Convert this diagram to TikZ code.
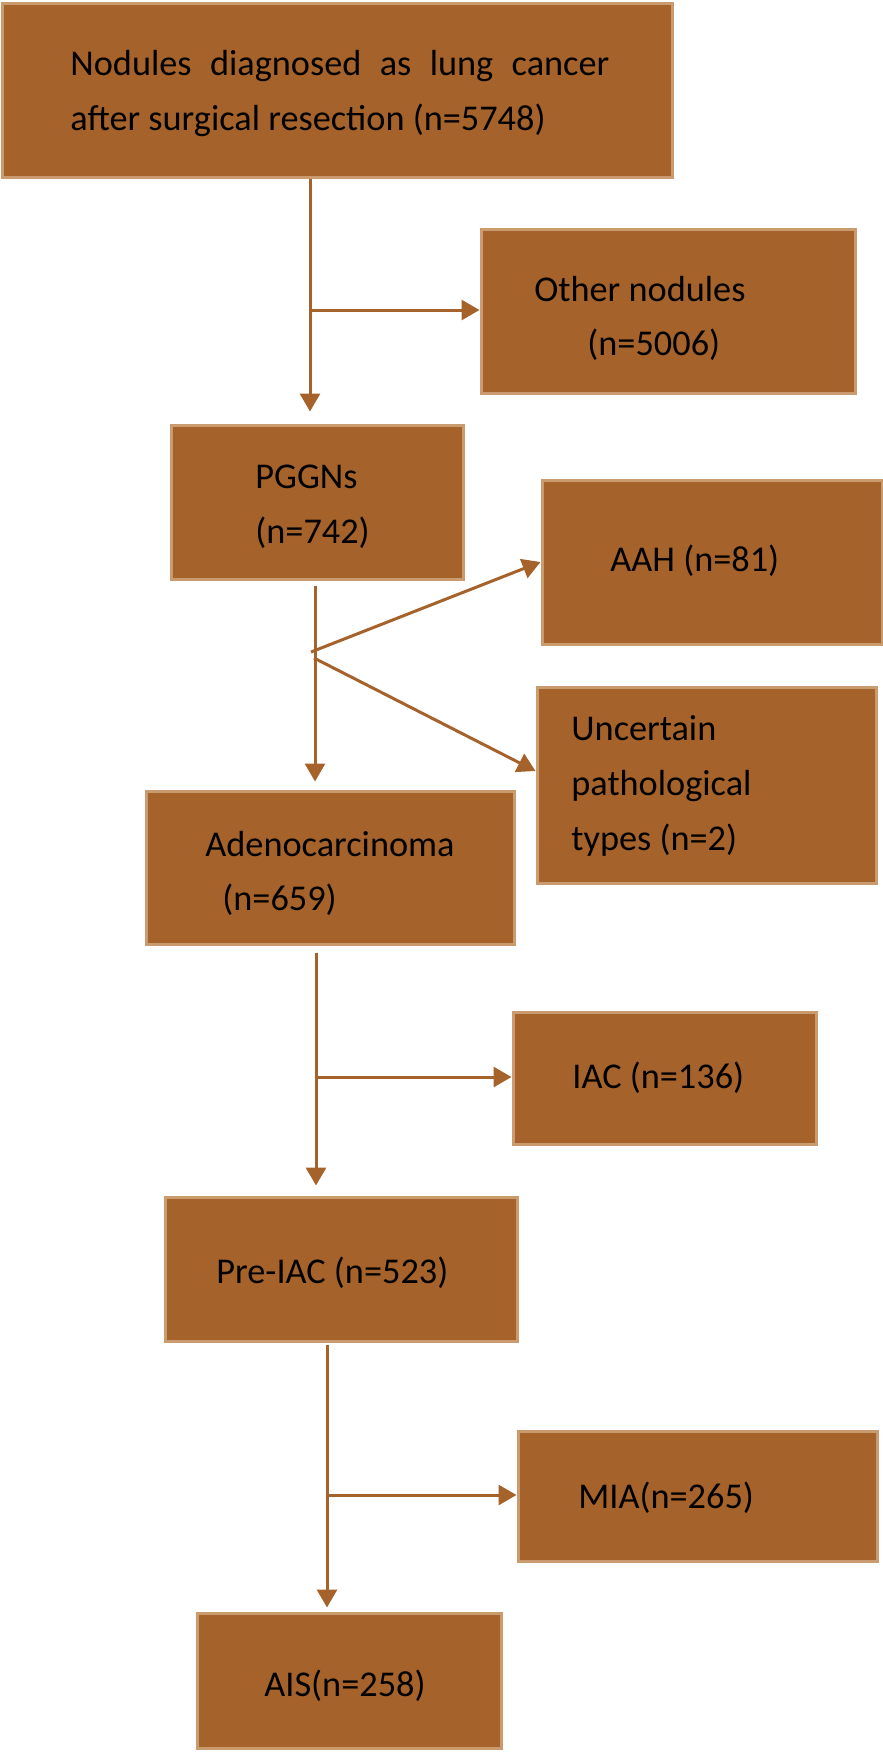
\documentclass[tikz,border=0pt]{standalone}
\usepackage{fontspec}
\setmainfont{Carlito}
\usetikzlibrary{arrows.meta}
\definecolor{bfill}{RGB}{165,99,43}
\definecolor{bborder}{RGB}{203,155,112}
\definecolor{bline}{RGB}{165,99,43}
\tikzset{
  box/.style={draw=bborder, fill=bfill, line width=1.5pt, rectangle, inner sep=0pt},
  txt/.style={anchor=west, inner sep=0pt, text height=13pt, text depth=4.5pt, font=\fontsize{18.15}{27}\selectfont, text=black},
  arr/.style={draw=bline, line width=1.5pt, -{Triangle[length=9pt,width=10pt]}},
  ln/.style={draw=bline, line width=1.5pt}
}
\begin{document}
\begin{tikzpicture}[x=0.5pt,y=-0.5pt]
\useasboundingbox (0,0) rectangle (883,1752);
% boxes
\node[box, minimum width=335pt, minimum height=87pt] (top) at (337,90) {};
\node[box, minimum width=187pt, minimum height=82pt] (other) at (668,311) {};
\node[box, minimum width=146pt, minimum height=77pt] (pggn) at (317,502) {};
\node[box, minimum width=170pt, minimum height=82pt] (aah) at (712,562) {};
\node[box, minimum width=169.5pt, minimum height=98pt] (unc) at (706.5,785) {};
\node[box, minimum width=184pt, minimum height=76.5pt] (adeno) at (330,867.5) {};
\node[box, minimum width=151.5pt, minimum height=66pt] (iac) at (664.5,1078) {};
\node[box, minimum width=176pt, minimum height=72pt] (preiac) at (341,1269) {};
\node[box, minimum width=179.5pt, minimum height=65pt] (mia) at (697.5,1496) {};
\node[box, minimum width=152pt, minimum height=67.5pt] (ais) at (349,1680.5) {};
% texts
\node[txt] (t1) at (70,67) {\makebox[269.5pt][s]{Nodules diagnosed as lung cancer}};
\node[txt] (t2) at (70,122) {after surgical resection (n=5748)};
\node[txt] (o1) at (534,293) {Other nodules};
\node[txt] (o2) at (587,347) {(n=5006)};
\node[txt] (p1) at (255,480) {PGGNs};
\node[txt] (p2) at (255,535) {(n=742)};
\node[txt] (a1) at (610,563) {AAH (n=81)};
\node[txt] (u1) at (571,732) {Uncertain};
\node[txt] (u2) at (571,787) {pathological};
\node[txt] (u3) at (571,842) {types (n=2)};
\node[txt] (d1) at (205,848) {Adenocarcinoma};
\node[txt] (d2) at (222,902) {(n=659)};
\node[txt] (i1) at (572,1080) {IAC (n=136)};
\node[txt] (r1) at (216,1275) {Pre-IAC (n=523)};
\node[txt] (m1) at (578,1500) {MIA(n=265)};
\node[txt] (s1) at (264,1688) {AIS(n=258)};
% connector coordinates
\coordinate (v1) at (310,310);
\coordinate (v2a) at (311,652);
\coordinate (v2b) at (314,658);
\coordinate (v2) at (315,652);
\coordinate (v3) at (316,1077);
\coordinate (v4) at (327,1495);
% connectors
\draw[arr] (v1 |- top.south) -- ([yshift=6pt]v1 |- pggn.north);
\draw[arr] (v1) -- (v1 -| other.west);
\draw[arr] ([yshift=-2.5pt]v2 |- pggn.south) -- ([yshift=4pt]v2 |- adeno.north);
\draw[arr] (v2a) -- (aah.west);
\draw[arr] (v2b) -- ([yshift=7pt]unc.west);
\draw[arr] ([yshift=-3.5pt]v3 |- adeno.south) -- ([yshift=5pt]v3 |- preiac.north);
\draw[arr] (v3) -- (v3 -| iac.west);
\draw[arr] ([yshift=-1pt]v4 |- preiac.south) -- ([yshift=2pt]v4 |- ais.north);
\draw[arr] (v4) -- (v4 -| mia.west);
\end{tikzpicture}
\end{document}
